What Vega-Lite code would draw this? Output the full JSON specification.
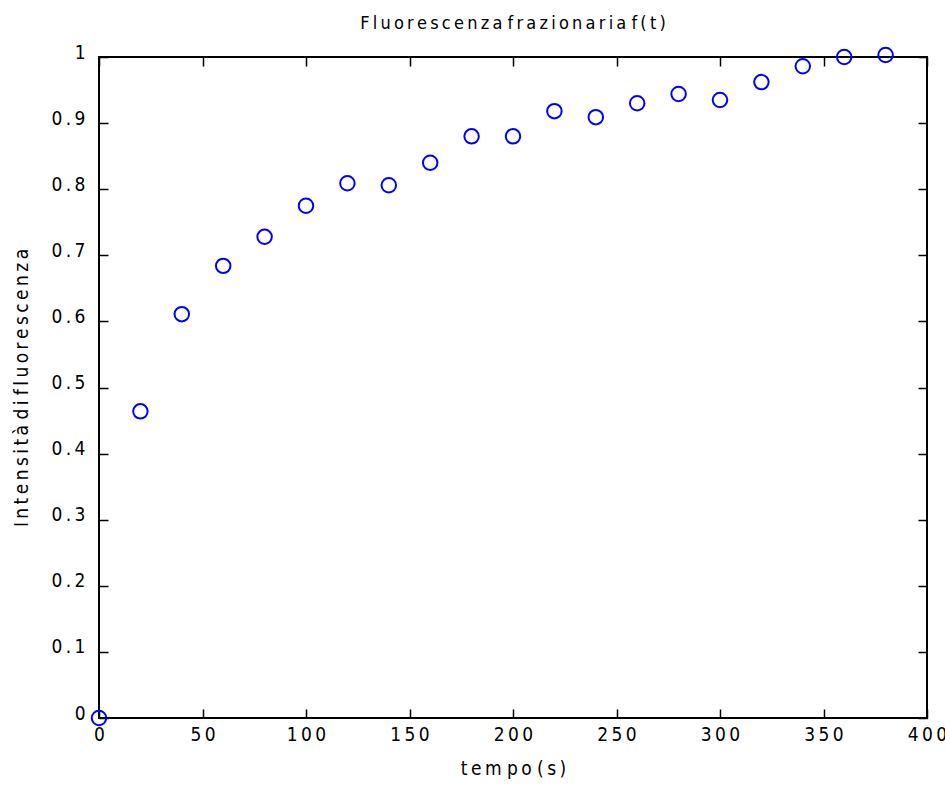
{
  "$schema": "https://vega.github.io/schema/vega-lite/v6.json",
  "autosize": "none",
  "padding": {"left": 99, "top": 57, "right": 18, "bottom": 67},
  "width": 828,
  "height": 661,
  "background": "white",
  "config": {
    "view": {"stroke": "black", "strokeWidth": 2},
    "font": "DejaVu Sans Condensed, Liberation Sans Narrow, Liberation Sans, sans-serif"
  },
  "title": {
    "text": "F\u2009l\u2009u\u2009o\u2009r\u2009e\u2009s\u2009c\u2009e\u2009n\u2009z\u2009a f\u2009r\u2009a\u2009z\u2009i\u2009o\u2009n\u2009a\u2009r\u2009i\u2009a f\u2009(\u2009t\u2009)",
    "font": "DejaVu Sans Condensed, Liberation Sans Narrow, Liberation Sans, sans-serif",
    "fontSize": 18,
    "fontWeight": "normal",
    "color": "black",
    "anchor": "middle",
    "offset": 10
  },
  "data": {
    "values": [
      {"t": 0, "f": 0.0},
      {"t": 20, "f": 0.464},
      {"t": 40, "f": 0.611},
      {"t": 60, "f": 0.684},
      {"t": 80, "f": 0.728},
      {"t": 100, "f": 0.775},
      {"t": 120, "f": 0.809},
      {"t": 140, "f": 0.806},
      {"t": 160, "f": 0.840},
      {"t": 180, "f": 0.880},
      {"t": 200, "f": 0.880},
      {"t": 220, "f": 0.918},
      {"t": 240, "f": 0.909},
      {"t": 260, "f": 0.930},
      {"t": 280, "f": 0.944},
      {"t": 300, "f": 0.935},
      {"t": 320, "f": 0.962},
      {"t": 340, "f": 0.986},
      {"t": 360, "f": 1.0},
      {"t": 380, "f": 1.003}
    ]
  },
  "layer": [
    {
      "mark": {"type": "point", "shape": "circle", "filled": false, "color": "#0000ff", "size": 210, "strokeWidth": 2, "opacity": 1, "clip": false},
      "encoding": {
        "x": {
          "field": "t", "type": "quantitative",
          "scale": {"domain": [0, 400], "nice": false, "zero": false},
          "axis": {
            "values": [0, 50, 100, 150, 200, 250, 300, 350, 400],
            "grid": false, "domain": false,
            "tickSize": -9, "tickWidth": 1.5, "tickColor": "black",
            "labelExpr": "join(split(datum.label, ''), '\u2009')",
            "labelFontSize": 19, "labelColor": "black",
            "labelPadding": 16, "labelFlush": false,
            "title": "t\u2009e\u2009m p\u2009o (\u2009s\u2009)",
            "titleFontSize": 19, "titleFontWeight": "normal", "titleColor": "black",
            "titlePadding": 15
          }
        },
        "y": {
          "field": "f", "type": "quantitative",
          "scale": {"domain": [0, 1], "nice": false, "zero": false},
          "axis": {
            "values": [0, 0.1, 0.2, 0.3, 0.4, 0.5, 0.6, 0.7, 0.8, 0.9, 1],
            "format": "~g",
            "grid": false, "domain": false,
            "tickSize": -9, "tickWidth": 1.5, "tickColor": "black",
            "labelExpr": "join(split(datum.label, ''), '\u2009')",
            "labelFontSize": 19, "labelColor": "black",
            "labelPadding": 23, "labelFlush": false, "labelOffset": -5,
            "title": "I\u2009n\u2009t\u2009e\u2009n\u2009s\u2009i\u2009t\u2009à d\u2009i f\u2009l\u2009u\u2009o\u2009r\u2009e\u2009s\u2009c\u2009e\u2009n\u2009z\u2009a",
            "titleFontSize": 19, "titleFontWeight": "normal", "titleColor": "black",
            "titlePadding": 19
          }
        }
      }
    },
    {
      "mark": {"type": "point", "opacity": 0},
      "encoding": {
        "x": {
          "field": "t", "type": "quantitative",
          "axis": {"orient": "top", "values": [0, 50, 100, 150, 200, 250, 300, 350, 400], "labels": false, "title": null, "grid": false, "domain": false, "tickSize": -9, "tickWidth": 1.5, "tickColor": "black"}
        },
        "y": {
          "field": "f", "type": "quantitative",
          "axis": {"orient": "right", "values": [0, 0.1, 0.2, 0.3, 0.4, 0.5, 0.6, 0.7, 0.8, 0.9, 1], "labels": false, "title": null, "grid": false, "domain": false, "tickSize": -9, "tickWidth": 1.5, "tickColor": "black"}
        }
      }
    }
  ],
  "resolve": {"axis": {"x": "independent", "y": "independent"}}
}
